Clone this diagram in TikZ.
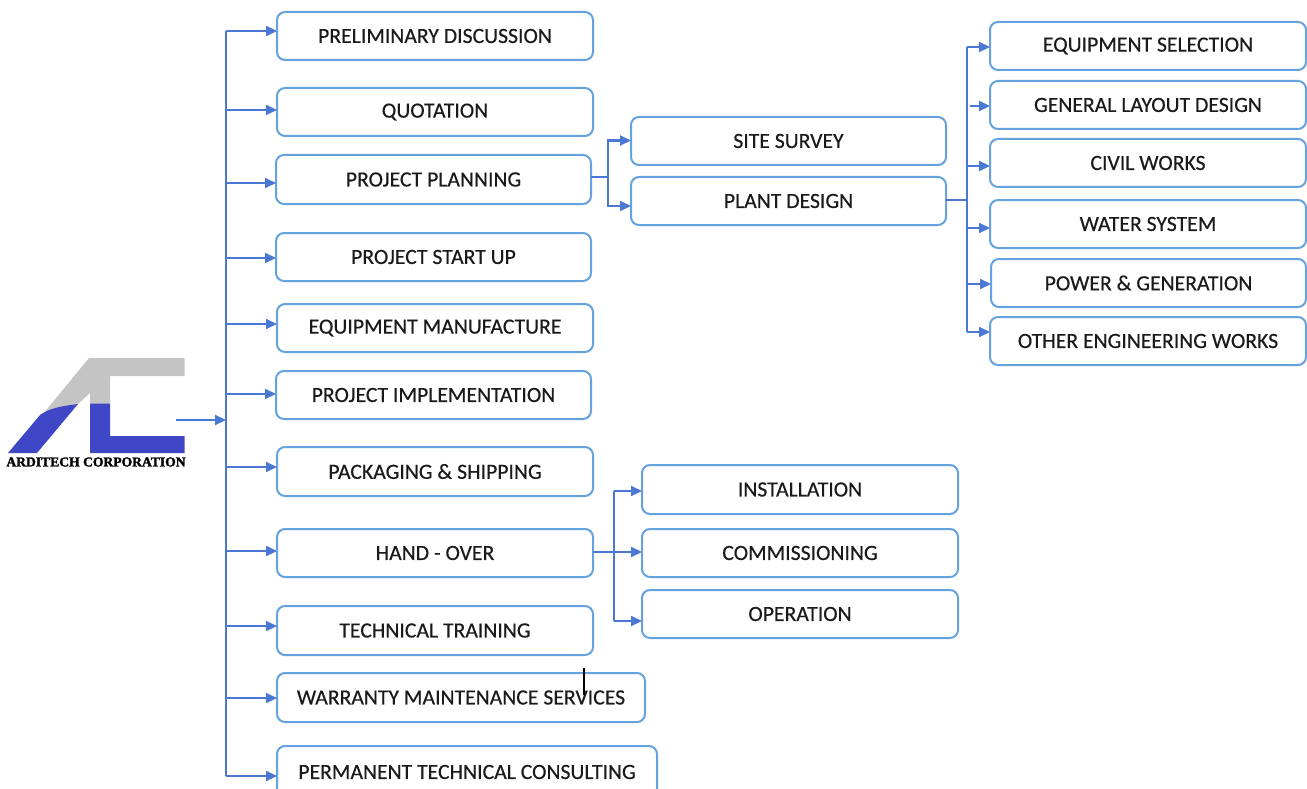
\documentclass[tikz,border=0pt]{standalone}
\usepackage{fontspec}
\setmainfont{Carlito}
\newfontfamily\boxfont[FakeBold=0.35]{Carlito}
\newfontfamily\logofont[FakeBold=2]{Liberation Serif Bold}
\usetikzlibrary{arrows.meta,calc}
\definecolor{boxline}{HTML}{64A3DF}
\definecolor{linkline}{HTML}{4A78D2}
\definecolor{logoblue}{HTML}{3F47C6}
\definecolor{logogray}{HTML}{C4C4C4}
\definecolor{inktext}{HTML}{1A1A1A}
\tikzset{
  x=1pt,y=-1pt,
  itembox/.style={draw=boxline,line width=2pt,rounded corners=8pt,fill=white,anchor=north west,inner sep=0pt,outer sep=0pt,text=inktext,font=\boxfont\fontsize{21.7}{24}\selectfont,align=center},
  link/.style={draw=linkline,line width=2.1pt,-{Triangle[length=11pt,width=10pt]}},
  linkplain/.style={draw=linkline,line width=2.1pt},
}
\newcommand{\itemnode}[6]{\node[itembox,minimum width=#4pt-#2pt,minimum height=#5pt-#3pt] (#1) at (#2,#3) {\raisebox{-1.5pt}{#6}};}
\begin{document}
\begin{tikzpicture}
\useasboundingbox (0,0) rectangle (1307,789);
\begin{scope}
\clip (0,0) rectangle (1307,789);
\itemnode{prelim}{277}{12}{593}{60}{PRELIMINARY DISCUSSION}
\itemnode{quote}{277}{88}{593}{136}{QUOTATION}
\itemnode{plan}{276}{155}{591}{204}{PROJECT PLANNING}
\itemnode{startup}{276}{233}{591}{281}{PROJECT START UP}
\itemnode{manuf}{277}{304}{593}{352}{EQUIPMENT MANUFACTURE}
\itemnode{impl}{276}{371}{591}{419}{PROJECT IMPLEMENTATION}
\itemnode{pack}{277}{447}{593}{496}{PACKAGING \& SHIPPING}
\itemnode{hand}{277}{529}{593}{577}{HAND - OVER}
\itemnode{train}{277}{606}{593}{655}{TECHNICAL TRAINING}
\node[itembox,minimum width=368pt,minimum height=49pt] (warr) at (277,673) {\raisebox{-1.5pt}{WARRANTY MAINTENANCE SERVICES}};
\node[itembox,minimum width=380pt,minimum height=52pt] (perm) at (277,746) {\raisebox{-1.5pt}{PERMANENT TECHNICAL CONSULTING}};
\itemnode{site}{631}{117}{946}{165}{SITE SURVEY}
\itemnode{plant}{631}{177}{946}{225}{PLANT DESIGN}
\itemnode{esel}{990}{22}{1306}{70}{EQUIPMENT SELECTION}
\itemnode{layout}{990}{81}{1306}{129}{GENERAL LAYOUT DESIGN}
\itemnode{civil}{990}{139}{1306}{187}{CIVIL WORKS}
\itemnode{water}{990}{200}{1306}{248}{WATER SYSTEM}
\itemnode{power}{991}{259}{1306}{307}{POWER \& GENERATION}
\itemnode{other}{990}{317}{1306}{365}{OTHER ENGINEERING WORKS}
\itemnode{inst}{642}{465}{958}{514}{INSTALLATION}
\itemnode{comm}{642}{529}{958}{577}{COMMISSIONING}
\itemnode{oper}{642}{590}{958}{638}{OPERATION}
\end{scope}
% logo
\fill[logogray] (89,358) -- (184.5,358) -- (184.5,376) -- (110,376) -- (110,404) -- (90,404) -- (90,393) -- (78,404) -- (43,414) -- cycle;
\fill[logoblue] (8,453) -- (37,453) -- (78,404) .. controls (62,406) and (50,408) .. (40,415) -- cycle;
\fill[logoblue] (90,403.5) -- (110,403.5) -- (110,436) -- (184.5,436) -- (184.5,453) -- (90,453) -- cycle;
\node[inner sep=0pt,text=black,font=\logofont\fontsize{13.6}{14}\selectfont] (logotext) at (96,462) {ARDITECH CORPORATION};
\coordinate (logoout) at (176,420);
% trunk
\coordinate (trunktop) at (226,31);
\coordinate (trunkbot) at (226,776);
\coordinate (trunkmid) at (226,420);
\draw[link] (logoout) -- (trunkmid);
\draw[linkplain] (trunktop) -- (trunkbot);
\draw[link] (trunktop) -- (trunktop -| prelim.west);
\foreach \yy/\nn in {110/quote,183/plan,258/startup,324/manuf,394/impl,467/pack,551/hand,626/train,698/warr,776/perm}{
  \draw[link] (226,\yy) -- (226,\yy -| \nn.west);
}
% planning branch
\coordinate (planj) at (608,177);
\draw[linkplain] (plan.east |- planj) -- (planj);
\coordinate (sitein) at (608,140.5);
\coordinate (plantin) at (608,206);
\draw[link] (planj) -- (sitein) -- (sitein -| site.west);
\draw[link] (planj) -- (plantin) -- (plantin -| plant.west);
% plant branch
\coordinate (plantj) at (967,200);
\draw[linkplain] (plant.east |- plantj) -- (plantj);
\draw[linkplain] (967,47) -- (967,332);
\foreach \yy/\nn in {47/esel,166/civil,228/water,284/power,332/other}{
  \draw[link] (967,\yy) -- (967,\yy -| \nn.west);
}
\draw[link] (970,106) -- (970,106 -| layout.west);
% hand-over branch
\coordinate (handj) at (614,552);
\draw[link] (hand.east |- handj) -- (handj -| comm.west);
\draw[linkplain] (614,491) -- (614,621);
\draw[link] (614,491) -- (614,491 -| inst.west);
\draw[link] (614,621) -- (614,621 -| oper.west);
% stray mark
\draw[black,line width=1.2pt] (584,668) -- (584,695);
\end{tikzpicture}
\end{document}
